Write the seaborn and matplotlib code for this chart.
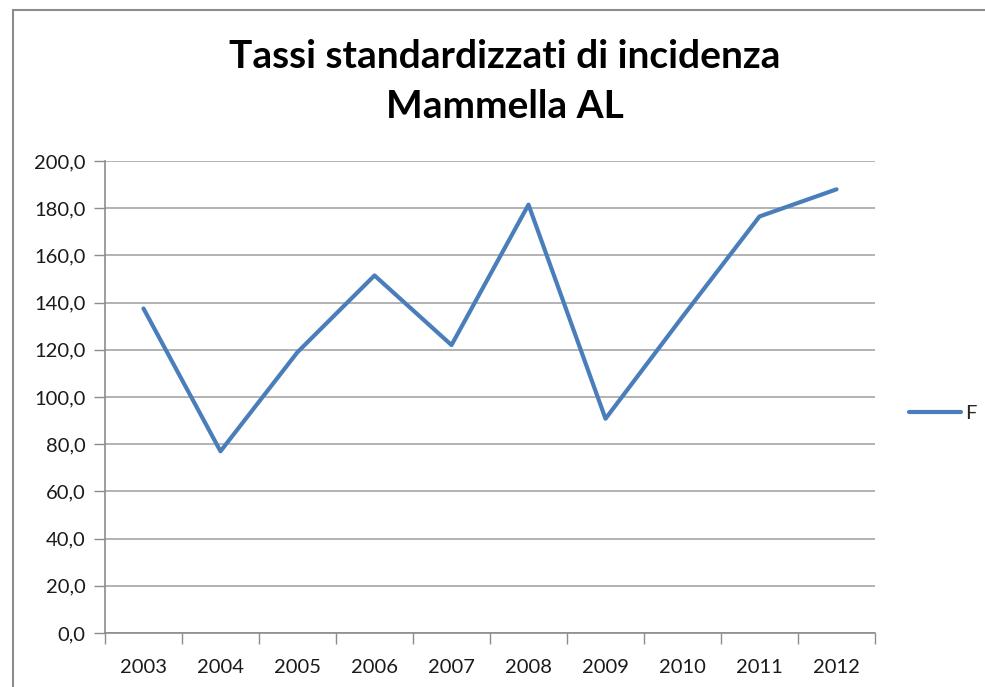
import numpy as np
import pandas as pd
import matplotlib
matplotlib.use("Agg")
import matplotlib.pyplot as plt
import seaborn as sns
from matplotlib.patches import Rectangle
from matplotlib.ticker import FuncFormatter, MultipleLocator

# values
years = [2003, 2004, 2005, 2006, 2007, 2008, 2009, 2010, 2011, 2012]
rates_f = [137.5, 77.0, 119.0, 151.5, 122.0, 181.5, 90.8, 134.0, 176.5, 188.0]

title_lines = ["Tassi standardizzati di incidenza", "Mammella AL"]
series_name = "F"

df = pd.DataFrame({"anno": years, "tasso": rates_f, "serie": series_name})

sns.set_style("white")
plt.rcParams["font.family"] = ["Lato", "DejaVu Sans"]

fig = plt.figure(figsize=(9.85, 6.87), dpi=100)
ax = fig.add_axes([105 / 985, 1 - 633 / 687, 770 / 985, 472 / 687])

sns.lineplot(data=df, x="anno", y="tasso", hue="serie", palette=["#4a7ebb"],
             linewidth=3, ax=ax, legend=True)

ax.set_xlim(years[0] - 0.5, years[-1] + 0.5)
ax.set_ylim(0, 200)
ax.yaxis.set_major_locator(MultipleLocator(20))
ax.yaxis.set_major_formatter(FuncFormatter(lambda v, p: f"{v:.1f}".replace(".", ",")))
ax.set_xticks(years)
ax.set_xticklabels([str(y) for y in years])
ax.set_xticks([y - 0.5 for y in years] + [years[-1] + 0.5], minor=True)
ax.tick_params(axis="x", which="major", length=0, pad=19, labelsize=14.5, colors="#1a1a1a")
ax.tick_params(axis="x", which="minor", length=8, width=1, color="#8c8c8c", bottom=True)
ax.tick_params(axis="y", which="major", length=8, width=1, color="#8c8c8c",
               labelsize=14.5, colors="#1a1a1a", left=True, pad=6)
ax.set_xlabel("")
ax.set_ylabel("")

ax.grid(axis="y", color="#a6a6a6", linewidth=1.2)
ax.set_axisbelow(True)
for s in ["top", "right"]:
    ax.spines[s].set_visible(False)
for s in ["left", "bottom"]:
    ax.spines[s].set_color("#8c8c8c")
    ax.spines[s].set_linewidth(1.2)

leg = ax.legend(loc="center left", bbox_to_anchor=(1.02, 0.465), frameon=False,
                fontsize=14.5, handlelength=2.6, handletextpad=0.2)
for h in leg.get_lines():
    h.set_linewidth(3)

fig.text(505 / 985, 1 - 57 / 687, title_lines[0], ha="center", va="center",
         fontsize=28, fontweight="bold", color="black")
fig.text(505 / 985, 1 - 107 / 687, title_lines[1], ha="center", va="center",
         fontsize=28, fontweight="bold", color="black")

# outer chart frame
fig.patches.append(Rectangle((13 / 985, -0.02), 1.0, 1 - 10 / 687 + 0.02,
                             transform=fig.transFigure, fill=False,
                             edgecolor="#8c8c8c", linewidth=1.5))

fig.savefig("out.png", dpi=100)
